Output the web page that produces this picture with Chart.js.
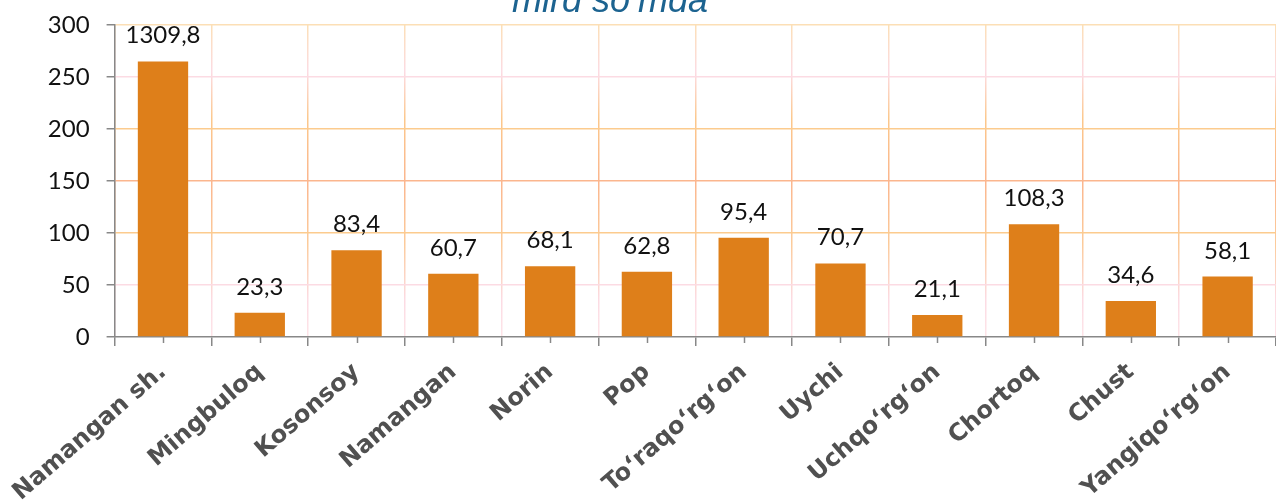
<!DOCTYPE html>
<html lang="uz">
<head>
    <meta charset="UTF-8">
    <title>mlrd so‘mda</title>
    <script src="https://cdn.jsdelivr.net/npm/chart.js"></script>
    <style>
        html, body { margin: 0; padding: 0; background: #fff; }
        .chart-container { position: relative; width: 1276px; height: 502px; }
    </style>
</head>
<body>
    <div class="chart-container">
        <canvas id="tumanChart"></canvas>
    </div>

<script>
// datos del grafico
const tumanlar = ['Namangan sh.', 'Mingbuloq', 'Kosonsoy', 'Namangan', 'Norin', 'Pop',
    'To‘raqo‘rg‘on', 'Uychi', 'Uchqo‘rg‘on', 'Chortoq', 'Chust', 'Yangiqo‘rg‘on'];
const qiymatlar = [1309.8, 23.3, 83.4, 60.7, 68.1, 62.8, 95.4, 70.7, 21.1, 108.3, 34.6, 58.1];
// la primera barra esta cortada en la imagen (escala rota)
const ustunBalandligi = [265, 23.3, 83.4, 60.7, 68.1, 62.8, 95.4, 70.7, 21.1, 108.3, 34.6, 58.1];
const yTicks = [0, 50, 100, 150, 200, 250, 300];
const sarlavha = 'mlrd so‘mda';

const gridColors = { 0: 'rgba(0,0,0,0)', 50: '#fcdbe3', 100: '#fccb8e', 150: '#fbb68e', 200: '#fccb8e', 250: '#fcdbe3', 300: '#fcdfb6' };

let vGrad = null;
function verticalGrid(ctx) {
    const chart = ctx.chart;
    const area = chart.chartArea;
    if (!area) return '#fcd0a0';
    if (!vGrad || vGrad._top !== area.top || vGrad._bottom !== area.bottom) {
        vGrad = chart.ctx.createLinearGradient(0, area.top, 0, area.bottom);
        vGrad.addColorStop(0, '#fcdfb6');
        vGrad.addColorStop(0.15, '#fcdbe3');
        vGrad.addColorStop(0.3, '#fcc88c');
        vGrad.addColorStop(0.5, '#fbb68e');
        vGrad.addColorStop(0.7, '#fccb9a');
        vGrad.addColorStop(0.88, '#fcdbe3');
        vGrad.addColorStop(1, '#fde4e8');
        vGrad._top = area.top;
        vGrad._bottom = area.bottom;
    }
    return vGrad;
}

// etiquetas encima de las barras
const valueLabels = {
    id: 'valueLabels',
    afterDatasetsDraw(chart) {
        const c = chart.ctx;
        const meta = chart.getDatasetMeta(0);
        c.save();
        c.font = '24px Lato';
        c.fillStyle = '#111';
        c.textAlign = 'center';
        c.textBaseline = 'alphabetic';
        meta.data.forEach((bar, i) => {
            c.fillText(qiymatlar[i].toFixed(1).replace('.', ','), bar.x, bar.y - 18);
        });
        c.restore();
    }
};

// titulo y marcas cortas en el centro de cada categoria
const extras = {
    id: 'extras',
    afterDraw(chart) {
        const c = chart.ctx;
        const x = chart.scales.x;
        c.save();
        c.strokeStyle = '#888';
        c.lineWidth = 1.5;
        tumanlar.forEach((t, i) => {
            const px = Math.round(x.getPixelForValue(i)) + 0.5;
            c.beginPath();
            c.moveTo(px, x.top);
            c.lineTo(px, x.top + 6);
            c.stroke();
        });
        c.font = 'italic 36px "Liberation Sans"';
        c.fillStyle = '#1c6390';
        c.textAlign = 'center';
        c.textBaseline = 'alphabetic';
        c.fillText(sarlavha, 610, 12);
        c.restore();
    }
};

const ctx = document.getElementById('tumanChart').getContext('2d');
const tumanChart = new Chart(ctx, {
    type: 'bar',
    data: {
        labels: tumanlar,
        datasets: [{
            data: ustunBalandligi,
            backgroundColor: '#de7f1a',
            barPercentage: 1,
            categoryPercentage: 0.52
        }]
    },
    options: {
        responsive: true,
        maintainAspectRatio: false,
        animation: false,
        layout: { padding: { top: 25, left: 0, right: 0, bottom: 0 } },
        plugins: {
            legend: { display: false },
            tooltip: { enabled: false },
            title: { display: false }
        },
        scales: {
            x: {
                grid: { color: verticalGrid, lineWidth: 1.5, tickColor: '#888', tickLength: 9, tickWidth: 1.5 },
                border: { color: '#888', width: 1.5 },
                ticks: {
                    autoSkip: false,
                    minRotation: 41,
                    maxRotation: 41,
                    padding: 12,
                    color: '#505050',
                    font: { family: 'DejaVu Sans', weight: 'bold', size: 24 }
                },
                afterFit(scale) { scale.height = 165; }
            },
            y: {
                min: 0,
                max: 300,
                afterBuildTicks(scale) { scale.ticks = yTicks.map(v => ({ value: v })); },
                grid: {
                    color: c => gridColors[c.tick.value] || '#fcdbe3',
                    lineWidth: 1.5,
                    tickColor: '#888',
                    tickLength: 8,
                    tickWidth: 1.5
                },
                border: { color: '#888', width: 1.5 },
                ticks: {
                    padding: 17,
                    color: '#111',
                    font: { family: 'Lato', size: 24 }
                },
                afterFit(scale) {
                    scale.width = 112;
                    scale.paddingTop = 0;
                    scale.paddingBottom = 0;
                }
            }
        }
    },
    plugins: [valueLabels, extras]
});
</script>
</body>
</html>
